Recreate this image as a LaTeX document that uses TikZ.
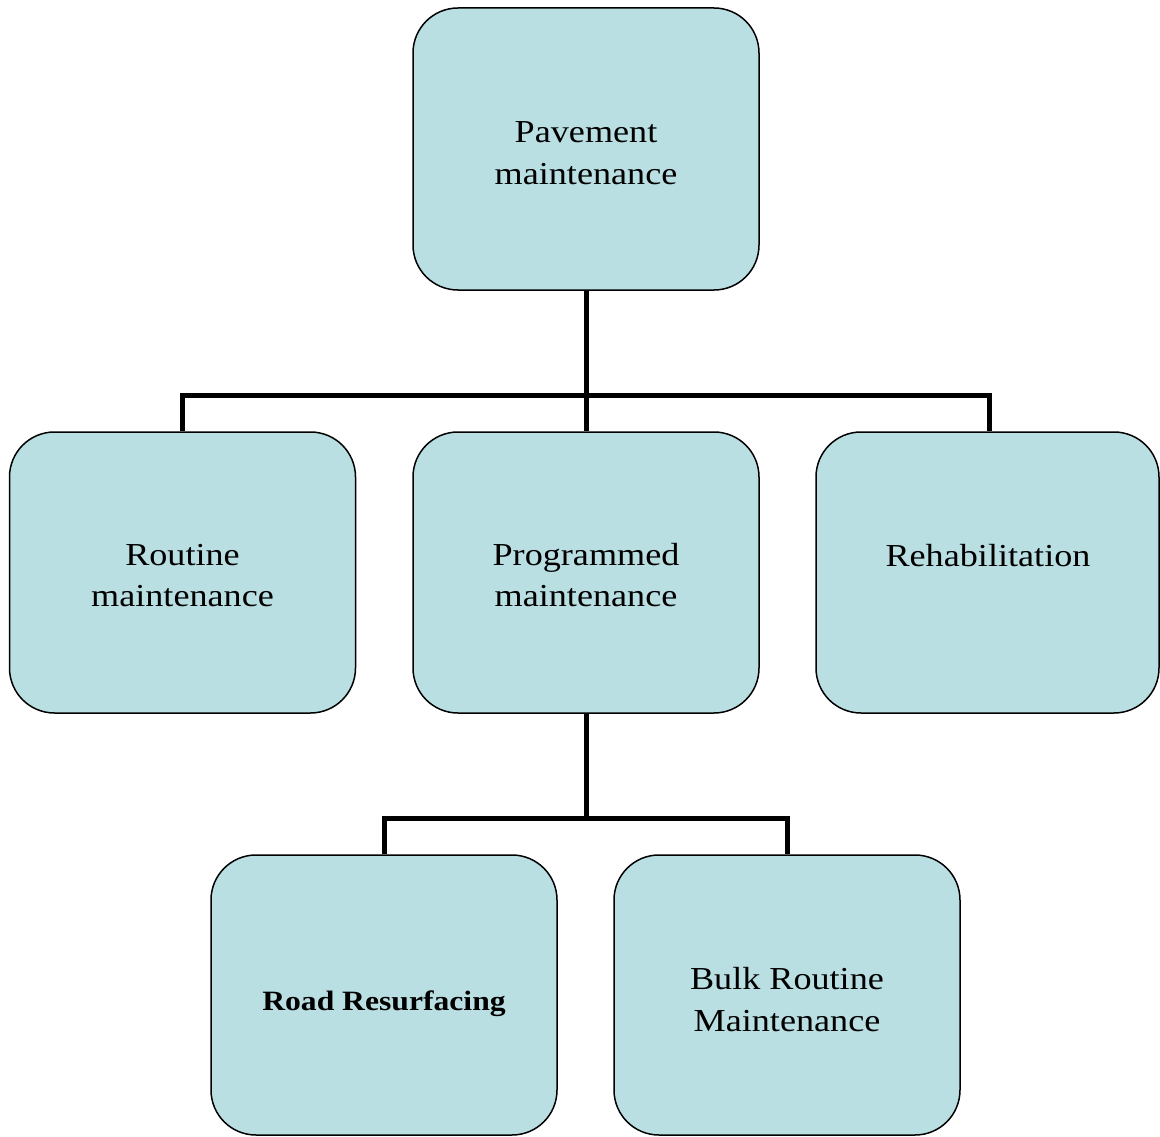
\documentclass[tikz,border=0pt]{standalone}
\usepackage{fontspec}
\setmainfont[FakeStretch=1.13]{Liberation Serif}
\definecolor{boxfill}{RGB}{185,223,227}
\begin{document}
\begin{tikzpicture}[x=1pt,y=-1pt,
  box/.style={draw=black, line width=1.5pt, fill=boxfill, rounded corners=45pt,
    minimum width=346pt, minimum height=282pt, inner sep=0pt},
  conn/.style={draw=black, line width=5pt, line join=miter, line cap=butt},
  lbl/.style={anchor=base, inner sep=0pt, align=center,
    font=\fontsize{32pt}{42pt}\selectfont},
  blbl/.style={anchor=base, inner sep=0pt, font=\fontsize{28pt}{36pt}\selectfont\bfseries}]
\useasboundingbox (0,0) rectangle (1160,1137);
% boxes
\node[box] (pm) at (586,149) {};
\node[box, minimum height=281pt] (rm) at (182.5,572.5) {};
\node[box, minimum height=281pt] (prm) at (586,572.5) {};
\node[box, minimum height=281pt, minimum width=343pt] (rh) at (987.5,572.5) {};
\node[box, minimum height=280pt] (rr) at (384,995) {};
\node[box, minimum height=280pt] (brm) at (787,995) {};
% junctions
\coordinate (j1) at (586,395.5);
\coordinate (j2) at (586,818);
% connectors
\draw[conn] (pm.south) -- (prm.north);
\draw[conn] (rm.north) -- (rm.north |- j1) -- (989,395.5) coordinate (j1r) -- (j1r |- rh.north);
\draw[conn] (prm.south) -- (j2);
\draw[conn] (rr.north) -- (rr.north |- j2) -- (brm.north |- j2) -- (brm.north);
% labels
\node[lbl] (t1a) at (586,143) {Pavement};
\node[lbl] (t1b) at (586,185) {maintenance};
\node[lbl] (t2a) at (182.5,565) {Routine};
\node[lbl] (t2b) at (182.5,606) {maintenance};
\node[lbl] (t3a) at (586,565) {Programmed};
\node[lbl] (t3b) at (586,606) {maintenance};
\node[lbl] (t4) at (988,566.5) {Rehabilitation};
\node[blbl] (t5) at (384,1010) {Road Resurfacing};
\node[lbl] (t6a) at (787,989) {Bulk Routine};
\node[lbl] (t6b) at (787,1031) {Maintenance};
\end{tikzpicture}
\end{document}
